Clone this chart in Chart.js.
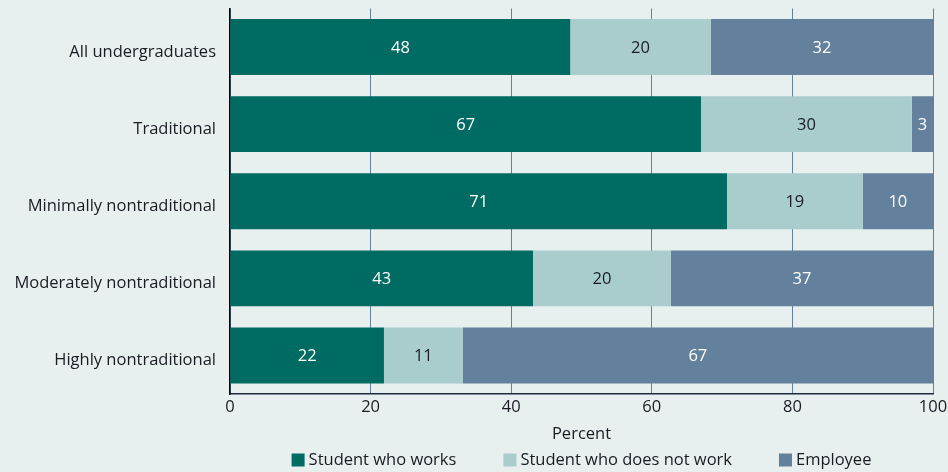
<!DOCTYPE html>
<html>
<head>
<meta charset="utf-8">
<script src="https://cdn.jsdelivr.net/npm/chart.js@4/dist/chart.umd.min.js"></script>
<style>
  html, body { margin: 0; padding: 0; background: #e7efef; }
  #wrap { width: 948px; height: 472px; position: relative; }
</style>
</head>
<body>
<div id="wrap"><canvas id="chart"></canvas></div>
<script>
// ------------------------
// Data
// ------------------------
const categories = [
    "All undergraduates",
    "Traditional",
    "Minimally nontraditional",
    "Moderately nontraditional",
    "Highly nontraditional"
];
const studentWorks = [48.4, 67, 70.7, 43.1, 21.9];
const studentNotWork = [20.0, 30, 19.3, 19.6, 11.2];
const employee = [31.6, 3, 10, 37.3, 66.9];
const xTicks = [0, 20, 40, 60, 80, 100];

const FONT = "'Open Sans', 'Noto Sans', sans-serif";
const FSIZE = 16.5;
const TEXT = "#1b1b24";

// rounded value inside each segment
const segmentLabels = {
    id: "segmentLabels",
    afterDatasetsDraw(chart) {
        const ctx = chart.ctx;
        ctx.save();
        ctx.font = FSIZE + "px " + FONT;
        ctx.textAlign = "center";
        ctx.textBaseline = "middle";
        chart.data.datasets.forEach((ds, i) => {
            const meta = chart.getDatasetMeta(i);
            meta.data.forEach((bar, j) => {
                const x = (bar.x + bar.base) / 2;
                ctx.fillStyle = ds.labelColor;
                ctx.fillText(String(Math.round(ds.data[j])), x, bar.y + 1);
            });
        });
        ctx.restore();
    }
};

// legend row under the axis title, centred on the plot area
const bottomLegend = {
    id: "bottomLegend",
    afterDraw(chart) {
        const ctx = chart.ctx;
        const area = chart.chartArea;
        const box = 13, gap = 4, spacing = 47;
        ctx.save();
        ctx.font = FSIZE + "px " + FONT;
        ctx.textBaseline = "middle";
        const items = chart.data.datasets.map(ds => ({
            text: ds.label,
            color: ds.backgroundColor,
            w: box + gap + ctx.measureText(ds.label).width
        }));
        const total = items.reduce((s, it) => s + it.w, 0) + spacing * (items.length - 1);
        let x = (area.left + area.right) / 2 - total / 2;
        const y = chart.height - 12;
        items.forEach(it => {
            ctx.fillStyle = it.color;
            ctx.fillRect(x, y - box / 2, box, box);
            ctx.fillStyle = TEXT;
            ctx.fillText(it.text, x + box + gap, y);
            x += it.w + spacing;
        });
        ctx.restore();
    }
};

new Chart(document.getElementById("chart").getContext("2d"), {
    type: "bar",
    data: {
        labels: categories,
        datasets: [
            { label: "Student who works", data: studentWorks, backgroundColor: "#006b63", labelColor: "#ffffff" },
            { label: "Student who does not work", data: studentNotWork, backgroundColor: "#a9cdcd", labelColor: TEXT },
            { label: "Employee", data: employee, backgroundColor: "#63809c", labelColor: "#ffffff" }
        ]
    },
    options: {
        indexAxis: "y",
        responsive: true,
        maintainAspectRatio: false,
        animation: false,
        layout: { padding: { top: 8.5, right: 15, left: 0, bottom: 28 } },
        datasets: { bar: { categoryPercentage: 0.725, barPercentage: 1, borderWidth: 0 } },
        scales: {
            x: {
                stacked: true,
                min: 0,
                max: 100,
                afterBuildTicks: (scale) => { scale.ticks = xTicks.map(v => ({ value: v })); },
                afterFit: (scale) => {
                    scale.height = 50;
                    scale.paddingRight = 0;
                },
                grid: { color: "#63809c", lineWidth: 1, drawTicks: false },
                border: { color: "#1e2a3e", width: 1.5 },
                ticks: { color: TEXT, font: { family: FONT, size: FSIZE }, padding: 3, maxRotation: 0 },
                title: { display: true, text: "Percent", color: TEXT, font: { family: FONT, size: FSIZE }, padding: { top: -3, bottom: 0 } }
            },
            y: {
                stacked: true,
                afterFit: (scale) => {
                    scale.width = 230;
                    scale.paddingTop = 0;
                    scale.paddingBottom = 0;
                },
                grid: { display: false, drawTicks: false },
                border: { color: "#000000", width: 1.5 },
                ticks: { color: TEXT, font: { family: FONT, size: FSIZE }, padding: 14, labelOffset: 5 }
            }
        },
        plugins: {
            legend: { display: false },
            tooltip: { enabled: false }
        }
    },
    plugins: [segmentLabels, bottomLegend]
});
</script>
</body>
</html>
